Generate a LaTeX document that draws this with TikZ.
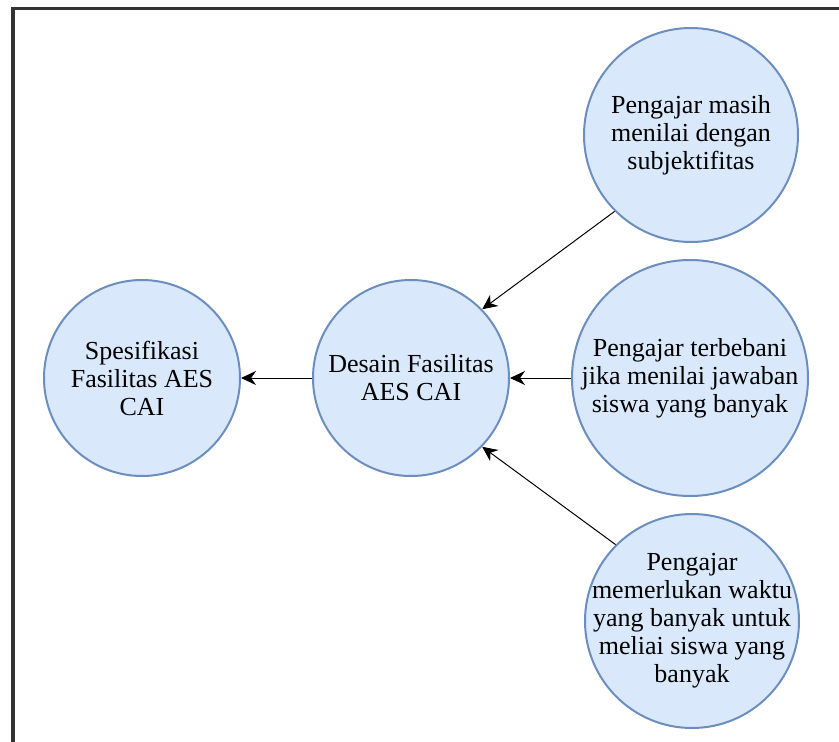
\documentclass[tikz,border=0pt]{standalone}
\usepackage{fontspec}
\setmainfont{Liberation Serif}
\usetikzlibrary{arrows.meta}
\definecolor{bubblefill}{HTML}{DAE8FC}
\definecolor{bubbleline}{HTML}{6C8EBF}

\begin{document}
\begin{tikzpicture}[x=1pt,y=-1pt,
    bubble/.style={circle,draw=bubbleline,fill=bubblefill,line width=2pt,
        align=center,inner sep=0pt,font=\fontsize{26}{28}\selectfont},
    flow/.style={-{Stealth[length=15pt,width=14pt]},line width=1pt}]
                \useasboundingbox (0,0) rectangle (839,742);
                \draw[line width=3.5pt,black!80] (13,742) -- (13,8.5) -- (839,8.5);

                \node[bubble,minimum size=196pt] at (142,378) (spek) {Spesifikasi\\Fasilitas AES\\CAI};
                \node[bubble,minimum size=196pt] at (411,378) (desain) {Desain Fasilitas\\AES CAI};

                \node[bubble,minimum size=214pt] at (691,135) (masih) {Pengajar masih\\menilai dengan\\subjektifitas};
                \node[bubble,minimum size=236pt,inner sep=-10pt] at (690,378) (beban) {Pengajar terbebani\\jika menilai jawaban\\siswa yang banyak};
                \node[bubble,minimum size=214pt,inner sep=-22pt] at (692,621) (waktu) {Pengajar\\memerlukan waktu\\yang banyak untuk\\meliai siswa yang\\banyak};

                \draw[flow] (desain) -- (spek);
                \draw[flow] (masih.225) -- (desain.44);
                \draw[flow] (beban) -- (desain);
                \draw[flow] (waktu.135) -- (desain.316);

            \end{tikzpicture}
\end{document}
